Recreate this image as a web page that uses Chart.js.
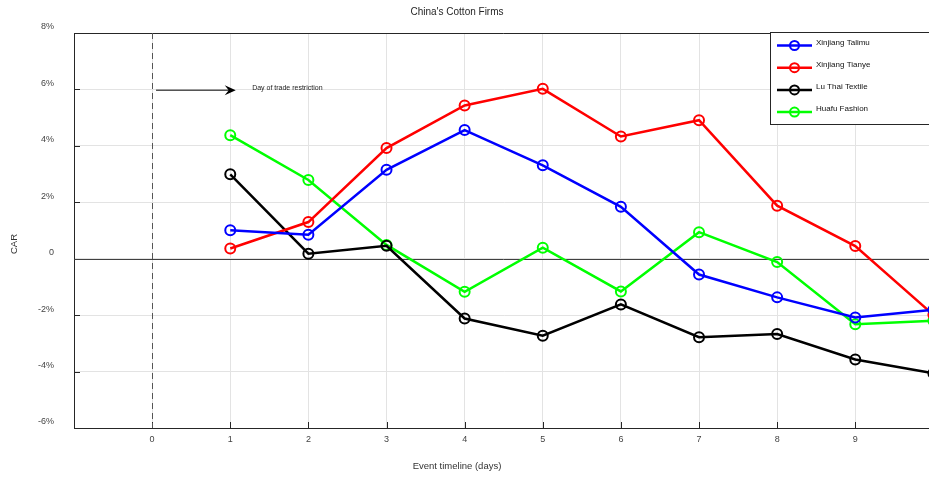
<!DOCTYPE html>
<html>
<head>
<meta charset="utf-8">
<script src="https://cdn.jsdelivr.net/npm/chart.js@4"></script>
<style>
  html, body { margin: 0; padding: 0; overflow: hidden; background: #fff; }
  #wrap { width: 960px; height: 477px; }
</style>
</head>
<body>
<div id="wrap"><canvas id="carChart" width="960" height="477"></canvas></div>
<script>
// Sample data (CAR in %)
const days = [1, 2, 3, 4, 5, 6, 7, 8, 9, 10];
const firms = ['Xinjiang Talimu', 'Xinjiang Tianye', 'Lu Thai Textile', 'Huafu Fashion'];
const talimu = [1.01, 0.85, 3.15, 4.56, 3.31, 1.84, -0.56, -1.37, -2.08, -1.81];
const tianye = [0.36, 1.30, 3.92, 5.43, 6.02, 4.33, 4.91, 1.88, 0.45, -1.99];
const luThai = [2.99, 0.18, 0.46, -2.12, -2.73, -1.62, -2.78, -2.67, -3.57, -4.06];
const huafu = [4.38, 2.79, 0.49, -1.17, 0.39, -1.16, 0.94, -0.12, -2.32, -2.20];
const colors = ['#0000ff', '#ff0000', '#000000', '#00ff00'];
const yTicks = [-6, -4, -2, 0, 2, 4, 6, 8];
const xTicks = [0, 1, 2, 3, 4, 5, 6, 7, 8, 9, 10];

// Annotation: arrow pointing at the day of trade restriction
const arrowFrom = { x: 0.05, y: 5.97 };
const arrowTo = { x: 1.07, y: 5.97 };
const noteText = 'Day of trade restriction';
const notePos = { x: 1.28, y: 6.05 };

const FONT = "'Liberation Sans', Arial, sans-serif";
const seriesValues = [talimu, tianye, luThai, huafu];

const datasets = firms.map((name, i) => ({
  label: name,
  data: days.map((d, j) => ({ x: d, y: seriesValues[i][j] })),
  borderColor: colors[i],
  borderWidth: 2.5,
  pointRadius: 5,
  pointHoverRadius: 5,
  pointBorderWidth: 2,
  pointBorderColor: colors[i],
  pointBackgroundColor: 'rgba(0,0,0,0)',
  tension: 0,
  fill: false
}));

// Extra drawing: frame, zero line, dashed event line, arrow, texts, legend
const decorations = {
  id: 'decorations',
  beforeDatasetsDraw(chart) {
    const { ctx, chartArea: a, scales: { x, y } } = chart;
    ctx.save();
    // inward tick marks
    ctx.strokeStyle = '#262626';
    ctx.lineWidth = 1;
    yTicks.forEach(v => {
      const py = Math.round(y.getPixelForValue(v)) + 0.5;
      ctx.beginPath(); ctx.moveTo(a.left, py); ctx.lineTo(a.left + 6, py); ctx.stroke();
    });
    xTicks.forEach(v => {
      const px = Math.round(x.getPixelForValue(v)) + 0.5;
      ctx.beginPath(); ctx.moveTo(px, a.bottom); ctx.lineTo(px, a.bottom - 6); ctx.stroke();
    });
    // top frame
    ctx.beginPath(); ctx.moveTo(a.left, a.top + 0.5); ctx.lineTo(a.right, a.top + 0.5); ctx.stroke();
    // zero line
    const y0 = Math.round(y.getPixelForValue(0)) + 0.5;
    ctx.strokeStyle = '#404040';
    ctx.beginPath(); ctx.moveTo(a.left, y0); ctx.lineTo(a.right, y0); ctx.stroke();
    // dashed event day line
    const x0 = Math.round(x.getPixelForValue(0)) + 0.5;
    ctx.setLineDash([6, 4]);
    ctx.strokeStyle = '#555';
    ctx.beginPath(); ctx.moveTo(x0, a.top); ctx.lineTo(x0, a.bottom); ctx.stroke();
    ctx.setLineDash([]);
    ctx.restore();
  },
  afterDraw(chart) {
    const { ctx, scales: { x, y } } = chart;
    ctx.save();
    ctx.fillStyle = '#262626';
    ctx.textAlign = 'center';
    ctx.textBaseline = 'middle';
    ctx.font = '10px ' + FONT;
    ctx.fillText("China's Cotton Firms", 457, 12);
    ctx.font = '9.5px ' + FONT;
    ctx.fillStyle = '#333';
    ctx.fillText('Event timeline (days)', 457, 466);
    ctx.save();
    ctx.translate(14, 244);
    ctx.rotate(-Math.PI / 2);
    ctx.fillText('CAR', 0, 0);
    ctx.restore();

    // arrow
    const ax1 = x.getPixelForValue(arrowFrom.x), ay = y.getPixelForValue(arrowFrom.y);
    const ax2 = x.getPixelForValue(arrowTo.x);
    ctx.strokeStyle = '#555';
    ctx.lineWidth = 1.5;
    ctx.beginPath(); ctx.moveTo(ax1, ay); ctx.lineTo(ax2 - 6, ay); ctx.stroke();
    ctx.fillStyle = '#000';
    ctx.beginPath();
    ctx.moveTo(ax2, ay);
    ctx.lineTo(ax2 - 11, ay - 5);
    ctx.lineTo(ax2 - 7, ay);
    ctx.lineTo(ax2 - 11, ay + 5);
    ctx.closePath();
    ctx.fill();
    ctx.font = '7px ' + FONT;
    ctx.textAlign = 'left';
    ctx.fillStyle = '#222';
    ctx.fillText(noteText, x.getPixelForValue(notePos.x), y.getPixelForValue(notePos.y));

    // legend box
    const lx = 770.5, ly = 32.5, lw = 200, lh = 92;
    ctx.fillStyle = '#fff';
    ctx.fillRect(lx, ly, lw, lh);
    ctx.strokeStyle = '#262626';
    ctx.lineWidth = 1;
    ctx.strokeRect(lx, ly, lw, lh);
    ctx.font = '8px ' + FONT;
    chart.data.datasets.forEach((ds, i) => {
      const rowY = 45.5 + i * 22.2;
      ctx.strokeStyle = ds.borderColor;
      ctx.lineWidth = 2.5;
      ctx.beginPath(); ctx.moveTo(777, rowY); ctx.lineTo(812, rowY); ctx.stroke();
      ctx.lineWidth = 2;
      ctx.beginPath(); ctx.arc(794.5, rowY, 4.5, 0, Math.PI * 2); ctx.stroke();
      ctx.fillStyle = '#111';
      ctx.fillText(ds.label, 816, rowY - 3);
    });
    ctx.restore();
  }
};

const ctx = document.getElementById('carChart').getContext('2d');
const carChart = new Chart(ctx, {
  type: 'line',
  data: { datasets: datasets },
  options: {
    responsive: false,
    animation: false,
    events: [],
    layout: { padding: { top: 33, right: 26.6, left: 0, bottom: 0 } },
    plugins: { legend: { display: false }, title: { display: false }, tooltip: { enabled: false } },
    scales: {
      x: {
        type: 'linear',
        min: -1,
        max: 10,
        afterBuildTicks: axis => { axis.ticks = [-1].concat(xTicks).map(v => ({ value: v })); },
        afterFit: axis => { axis.height = 49; },
        ticks: {
          padding: 6,
          color: '#444',
          font: { family: FONT, size: 9 },
          maxRotation: 0,
          autoSkip: false,
          callback: v => (v < 0 ? '' : String(v))
        },
        grid: { color: '#e3e3e3', drawTicks: false },
        border: { display: true, color: '#262626', width: 1 }
      },
      y: {
        min: -6,
        max: 8,
        afterBuildTicks: axis => { axis.ticks = yTicks.map(v => ({ value: v })); },
        afterFit: axis => { axis.width = 74; },
        ticks: {
          padding: 20,
          labelOffset: -6,
          color: '#444',
          font: { family: FONT, size: 9 },
          callback: v => (v === 0 ? '0' : v + '%')
        },
        grid: { color: '#e3e3e3', drawTicks: false },
        border: { display: true, color: '#262626', width: 1 }
      }
    }
  },
  plugins: [decorations]
});
</script>
</body>
</html>
